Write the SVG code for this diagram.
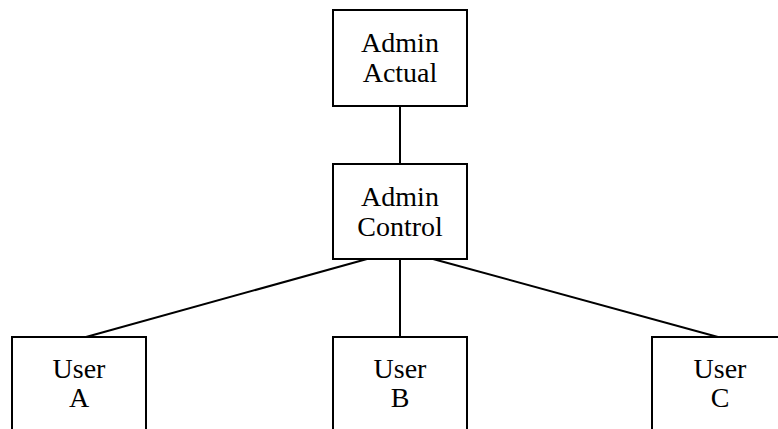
<svg xmlns="http://www.w3.org/2000/svg" width="778" height="429" viewBox="0 0 778 429">
<style>
.box{fill:#fff;stroke:#000;stroke-width:2}
.lbl{font-family:"Liberation Serif","Times New Roman",serif;font-size:28px;fill:#000;text-anchor:middle}
.edge{stroke:#000;stroke-width:2;fill:none}
</style>
<rect width="778" height="429" fill="#fff"/>
<g id="connectors">
<line class="edge" x1="400" y1="106" x2="400" y2="164"/>
<line class="edge" x1="367" y1="259" x2="86" y2="337"/>
<line class="edge" x1="400" y1="259" x2="400" y2="337"/>
<line class="edge" x1="433" y1="259" x2="718" y2="337"/>
</g>
<g id="admin-actual">
<rect class="box" x="333" y="10" width="134" height="96"/>
<text class="lbl" x="400" y="52">Admin</text>
<text class="lbl" x="400" y="81.5">Actual</text>
</g>
<g id="admin-control">
<rect class="box" x="333" y="164" width="134" height="95"/>
<text class="lbl" x="400" y="206">Admin</text>
<text class="lbl" x="400" y="235.5">Control</text>
</g>
<g id="user-a">
<rect class="box" x="12" y="337" width="134" height="100"/>
<text class="lbl" x="79" y="377.5">User</text>
<text class="lbl" x="79" y="407">A</text>
</g>
<g id="user-b">
<rect class="box" x="333" y="337" width="134" height="100"/>
<text class="lbl" x="400" y="377.5">User</text>
<text class="lbl" x="400" y="407">B</text>
</g>
<g id="user-c">
<rect class="box" x="652" y="337" width="134" height="100"/>
<text class="lbl" x="720" y="377.5">User</text>
<text class="lbl" x="720" y="407">C</text>
</g>
</svg>
